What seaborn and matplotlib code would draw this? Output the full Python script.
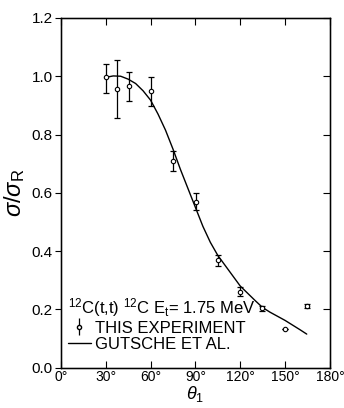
import matplotlib
matplotlib.use("Agg")
import matplotlib.pyplot as plt
from matplotlib.lines import Line2D
import seaborn as sns
import pandas as pd

# measured points (theta in deg, sigma/sigma_R, error bar low/high)
exp_theta = [30.4, 37.8, 45.6, 60.2, 75.3, 90.4, 104.9, 120.0, 134.9, 150.0, 164.4]
exp_ratio = [0.996, 0.955, 0.966, 0.949, 0.709, 0.569, 0.369, 0.261, 0.203, 0.132, 0.211]
err_low = [0.052, 0.098, 0.051, 0.050, 0.035, 0.029, 0.021, 0.015, 0.010, 0.0, 0.008]
err_high = [0.045, 0.100, 0.047, 0.049, 0.035, 0.031, 0.018, 0.015, 0.010, 0.0, 0.008]

# Gutsche et al. curve
fit_theta = [30, 35, 40, 45, 50, 55, 60, 65, 70, 75, 80, 85, 90, 95, 100,
             105, 110, 115, 120, 125, 130, 135, 140, 145, 150, 155, 160, 164.5]
fit_ratio = [0.996, 1.001, 1.0, 0.99, 0.975, 0.95, 0.918, 0.87, 0.815, 0.75,
             0.68, 0.615, 0.55, 0.485, 0.43, 0.385, 0.35, 0.315, 0.28, 0.255,
             0.23, 0.206, 0.19, 0.176, 0.162, 0.146, 0.13, 0.115]

x_ticks = [0, 30, 60, 90, 120, 150, 180]
y_ticks = [0.0, 0.2, 0.4, 0.6, 0.8, 1.0, 1.2]

sns.set_style("ticks")
plt.rcParams["font.family"] = ["Liberation Sans", "DejaVu Sans"]
plt.rcParams["mathtext.fontset"] = "custom"
plt.rcParams["mathtext.rm"] = "Liberation Sans"
plt.rcParams["mathtext.it"] = "Liberation Sans:italic"
for k in ["text.color", "axes.labelcolor", "xtick.color", "ytick.color", "axes.edgecolor"]:
    plt.rcParams[k] = "black"

exp = pd.DataFrame({"theta": exp_theta, "ratio": exp_ratio})
fit = pd.DataFrame({"theta": fit_theta, "ratio": fit_ratio})

fig = plt.figure(figsize=(3.44, 4.08), dpi=100)
ax = fig.add_axes([0.177, 0.099, 0.782, 0.857])

sns.lineplot(data=fit, x="theta", y="ratio", ax=ax, color="black", lw=1.0)
ax.errorbar(exp_theta, exp_ratio, yerr=[err_low, err_high], fmt="none",
            ecolor="black", elinewidth=0.9, capsize=2, capthick=0.9)
sns.scatterplot(data=exp, x="theta", y="ratio", ax=ax, s=10, marker="o",
                facecolor="white", edgecolor="black", linewidth=0.8, zorder=3)

ax.set_xlim(0, 180)
ax.set_ylim(0, 1.2)
ax.set_xticks(x_ticks)
ax.set_xticklabels([f"{t}°" for t in x_ticks], fontsize=10)
ax.set_yticks(y_ticks)
ax.set_yticklabels([f"{v:.1f}" for v in y_ticks], fontsize=11)
ax.tick_params(axis="x", direction="in", length=5, width=0.8, pad=2)
ax.tick_params(axis="y", direction="out", length=4, width=0.8, pad=2)
for s in ax.spines.values():
    s.set_linewidth(1.0)

# inward ticks on the right and top
ax_r = ax.twinx()
ax_r.set_ylim(0, 1.2)
ax_r.set_yticks(y_ticks)
ax_r.tick_params(direction="in", length=5, width=0.8, labelright=False)
ax_t = ax.twiny()
ax_t.set_xlim(0, 180)
ax_t.set_xticks(x_ticks)
ax_t.tick_params(direction="in", length=5, width=0.8, labeltop=False)

ax.set_xlabel(r"$\theta_1$", fontsize=13, labelpad=0)
ax.set_ylabel(r"$\sigma/\sigma_{\rm R}$", fontsize=17, labelpad=3)

exp_handle = ax.errorbar([], [], yerr=[], fmt="o", color="black", markersize=3,
                         markerfacecolor="white", elinewidth=0.9, capsize=2)
handles = [exp_handle, Line2D([], [], color="black", lw=1.0)]
leg = ax.legend(handles, ["THIS EXPERIMENT", "GUTSCHE ET AL."],
                title=r"$^{12}$C(t,t) $^{12}$C E$_{\rm t}$= 1.75 MeV",
                loc="lower left", bbox_to_anchor=(0.0, 0.025), frameon=False,
                fontsize=12, title_fontsize=12, alignment="left",
                handlelength=1.4, handletextpad=0.25, labelspacing=0.1,
                borderaxespad=0.2, borderpad=0.2)

fig.savefig("out.png", dpi=100)
